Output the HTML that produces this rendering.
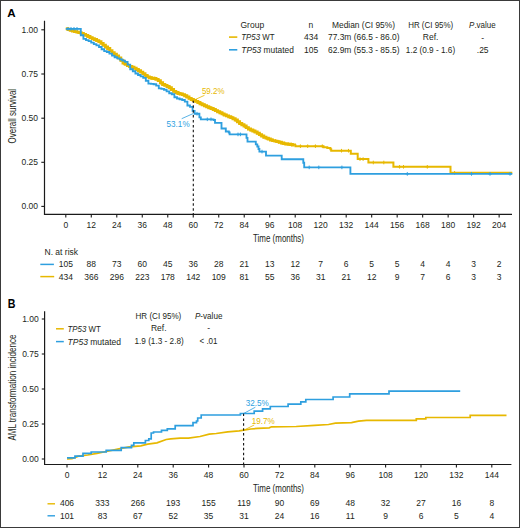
<!DOCTYPE html><html><head><meta charset="utf-8"><style>html,body{margin:0;padding:0;background:#fff;}svg{display:block;}text{font-family:"Liberation Sans", sans-serif;}</style></head><body>
<svg width="520" height="528" viewBox="0 0 520 528">
<rect x="0" y="0" width="520" height="528" fill="#fff"/>
<text x="7.3" y="17.1" font-size="11.6" text-anchor="start" fill="#000" font-weight="bold" font-style="normal">A</text>
<path d="M44.5,20.8V214.4H512" stroke="#1a1a1a" stroke-width="1.2" fill="none"/>
<path d="M41.3,29.8H44.5" stroke="#1a1a1a" stroke-width="1.1"/>
<text x="38.0" y="32.8" font-size="8.5" text-anchor="end" fill="#231f20" font-weight="normal" font-style="normal">1.00</text>
<path d="M41.3,74.0H44.5" stroke="#1a1a1a" stroke-width="1.1"/>
<text x="38.0" y="77.0" font-size="8.5" text-anchor="end" fill="#231f20" font-weight="normal" font-style="normal">0.75</text>
<path d="M41.3,118.2H44.5" stroke="#1a1a1a" stroke-width="1.1"/>
<text x="38.0" y="121.2" font-size="8.5" text-anchor="end" fill="#231f20" font-weight="normal" font-style="normal">0.50</text>
<path d="M41.3,162.3H44.5" stroke="#1a1a1a" stroke-width="1.1"/>
<text x="38.0" y="165.3" font-size="8.5" text-anchor="end" fill="#231f20" font-weight="normal" font-style="normal">0.25</text>
<path d="M41.3,206.4H44.5" stroke="#1a1a1a" stroke-width="1.1"/>
<text x="38.0" y="209.4" font-size="8.5" text-anchor="end" fill="#231f20" font-weight="normal" font-style="normal">0.00</text>
<path d="M65.80,214.4V217.6" stroke="#1a1a1a" stroke-width="1.1"/>
<text x="65.8" y="228.1" font-size="8.5" text-anchor="middle" fill="#231f20" font-weight="normal" font-style="normal">0</text>
<path d="M91.29,214.4V217.6" stroke="#1a1a1a" stroke-width="1.1"/>
<text x="91.29" y="228.1" font-size="8.5" text-anchor="middle" fill="#231f20" font-weight="normal" font-style="normal">12</text>
<path d="M116.78,214.4V217.6" stroke="#1a1a1a" stroke-width="1.1"/>
<text x="116.78" y="228.1" font-size="8.5" text-anchor="middle" fill="#231f20" font-weight="normal" font-style="normal">24</text>
<path d="M142.27,214.4V217.6" stroke="#1a1a1a" stroke-width="1.1"/>
<text x="142.27" y="228.1" font-size="8.5" text-anchor="middle" fill="#231f20" font-weight="normal" font-style="normal">36</text>
<path d="M167.76,214.4V217.6" stroke="#1a1a1a" stroke-width="1.1"/>
<text x="167.76" y="228.1" font-size="8.5" text-anchor="middle" fill="#231f20" font-weight="normal" font-style="normal">48</text>
<path d="M193.25,214.4V217.6" stroke="#1a1a1a" stroke-width="1.1"/>
<text x="193.25" y="228.1" font-size="8.5" text-anchor="middle" fill="#231f20" font-weight="normal" font-style="normal">60</text>
<path d="M218.74,214.4V217.6" stroke="#1a1a1a" stroke-width="1.1"/>
<text x="218.74" y="228.1" font-size="8.5" text-anchor="middle" fill="#231f20" font-weight="normal" font-style="normal">72</text>
<path d="M244.23,214.4V217.6" stroke="#1a1a1a" stroke-width="1.1"/>
<text x="244.23" y="228.1" font-size="8.5" text-anchor="middle" fill="#231f20" font-weight="normal" font-style="normal">84</text>
<path d="M269.72,214.4V217.6" stroke="#1a1a1a" stroke-width="1.1"/>
<text x="269.72" y="228.1" font-size="8.5" text-anchor="middle" fill="#231f20" font-weight="normal" font-style="normal">96</text>
<path d="M295.21,214.4V217.6" stroke="#1a1a1a" stroke-width="1.1"/>
<text x="295.21" y="228.1" font-size="8.5" text-anchor="middle" fill="#231f20" font-weight="normal" font-style="normal">108</text>
<path d="M320.70,214.4V217.6" stroke="#1a1a1a" stroke-width="1.1"/>
<text x="320.7" y="228.1" font-size="8.5" text-anchor="middle" fill="#231f20" font-weight="normal" font-style="normal">120</text>
<path d="M346.19,214.4V217.6" stroke="#1a1a1a" stroke-width="1.1"/>
<text x="346.19" y="228.1" font-size="8.5" text-anchor="middle" fill="#231f20" font-weight="normal" font-style="normal">132</text>
<path d="M371.68,214.4V217.6" stroke="#1a1a1a" stroke-width="1.1"/>
<text x="371.68" y="228.1" font-size="8.5" text-anchor="middle" fill="#231f20" font-weight="normal" font-style="normal">144</text>
<path d="M397.17,214.4V217.6" stroke="#1a1a1a" stroke-width="1.1"/>
<text x="397.17" y="228.1" font-size="8.5" text-anchor="middle" fill="#231f20" font-weight="normal" font-style="normal">156</text>
<path d="M422.66,214.4V217.6" stroke="#1a1a1a" stroke-width="1.1"/>
<text x="422.66" y="228.1" font-size="8.5" text-anchor="middle" fill="#231f20" font-weight="normal" font-style="normal">168</text>
<path d="M448.15,214.4V217.6" stroke="#1a1a1a" stroke-width="1.1"/>
<text x="448.15" y="228.1" font-size="8.5" text-anchor="middle" fill="#231f20" font-weight="normal" font-style="normal">180</text>
<path d="M473.64,214.4V217.6" stroke="#1a1a1a" stroke-width="1.1"/>
<text x="473.64" y="228.1" font-size="8.5" text-anchor="middle" fill="#231f20" font-weight="normal" font-style="normal">192</text>
<path d="M499.13,214.4V217.6" stroke="#1a1a1a" stroke-width="1.1"/>
<text x="499.13" y="228.1" font-size="8.5" text-anchor="middle" fill="#231f20" font-weight="normal" font-style="normal">204</text>
<text x="278.5" y="241.6" font-size="10" text-anchor="middle" fill="#231f20" font-weight="normal" font-style="normal" textLength="51" lengthAdjust="spacingAndGlyphs">Time (months)</text>
<g transform="translate(15.5,116.2) rotate(-90)">
<text x="0" y="0" font-size="10" text-anchor="middle" fill="#231f20" font-weight="normal" font-style="normal" textLength="54.6" lengthAdjust="spacingAndGlyphs">Overall survival</text>
</g>
<text x="240.5" y="27.6" font-size="8.5" text-anchor="start" fill="#231f20" font-weight="normal" font-style="normal">Group</text>
<text x="310.9" y="27.6" font-size="8.5" text-anchor="middle" fill="#231f20" font-weight="normal" font-style="normal">n</text>
<text x="363.5" y="27.6" font-size="8.5" text-anchor="middle" fill="#231f20" font-weight="normal" font-style="normal" textLength="63" lengthAdjust="spacingAndGlyphs">Median (CI 95%)</text>
<text x="430.7" y="27.6" font-size="8.5" text-anchor="middle" fill="#231f20" font-weight="normal" font-style="normal" textLength="45" lengthAdjust="spacingAndGlyphs">HR (CI 95%)</text>
<text x="482.4" y="27.6" font-size="8.5" text-anchor="middle" fill="#231f20" textLength="26.6" lengthAdjust="spacingAndGlyphs"><tspan font-style="italic">P</tspan>.value</text>
<path d="M229,37.1H237.3" stroke="#E7B800" stroke-width="1.6"/>
<path d="M229,49.8H237.3" stroke="#2E9FDF" stroke-width="1.6"/>
<text x="241.3" y="40.1" font-size="8.5" fill="#231f20" textLength="33.2" lengthAdjust="spacingAndGlyphs"><tspan font-style="italic">TP53</tspan> WT</text>
<text x="241.3" y="52.6" font-size="8.5" fill="#231f20" textLength="52.5" lengthAdjust="spacingAndGlyphs"><tspan font-style="italic">TP53</tspan> mutated</text>
<text x="311.2" y="40.1" font-size="8.5" text-anchor="middle" fill="#231f20" font-weight="normal" font-style="normal">434</text>
<text x="311.2" y="52.6" font-size="8.5" text-anchor="middle" fill="#231f20" font-weight="normal" font-style="normal">105</text>
<text x="363.75" y="40.1" font-size="8.5" text-anchor="middle" fill="#231f20" font-weight="normal" font-style="normal" textLength="71.5" lengthAdjust="spacingAndGlyphs">77.3m (66.5 - 86.0)</text>
<text x="363.75" y="52.6" font-size="8.5" text-anchor="middle" fill="#231f20" font-weight="normal" font-style="normal" textLength="71.5" lengthAdjust="spacingAndGlyphs">62.9m (55.3 - 85.5)</text>
<text x="430.6" y="40.1" font-size="8.5" text-anchor="middle" fill="#231f20" font-weight="normal" font-style="normal">Ref.</text>
<text x="430.5" y="52.6" font-size="8.5" text-anchor="middle" fill="#231f20" font-weight="normal" font-style="normal" textLength="49.3" lengthAdjust="spacingAndGlyphs">1.2 (0.9 - 1.6)</text>
<text x="482.7" y="40.8" font-size="8.5" text-anchor="middle" fill="#231f20" font-weight="normal" font-style="normal">-</text>
<text x="482.7" y="52.6" font-size="8.5" text-anchor="middle" fill="#231f20" font-weight="normal" font-style="normal">.25</text>
<text x="44.5" y="254.6" font-size="8.5" text-anchor="start" fill="#231f20" font-weight="normal" font-style="normal">N. at risk</text>
<path d="M40.3,264.4H53.9" stroke="#2E9FDF" stroke-width="1.5"/>
<path d="M40.3,276.6H54.2" stroke="#E7B800" stroke-width="1.5"/>
<text x="65.8" y="267.3" font-size="8.5" text-anchor="middle" fill="#231f20" font-weight="normal" font-style="normal">105</text>
<text x="65.8" y="279.8" font-size="8.5" text-anchor="middle" fill="#231f20" font-weight="normal" font-style="normal">434</text>
<text x="91.29" y="267.3" font-size="8.5" text-anchor="middle" fill="#231f20" font-weight="normal" font-style="normal">88</text>
<text x="91.29" y="279.8" font-size="8.5" text-anchor="middle" fill="#231f20" font-weight="normal" font-style="normal">366</text>
<text x="116.78" y="267.3" font-size="8.5" text-anchor="middle" fill="#231f20" font-weight="normal" font-style="normal">73</text>
<text x="116.78" y="279.8" font-size="8.5" text-anchor="middle" fill="#231f20" font-weight="normal" font-style="normal">296</text>
<text x="142.27" y="267.3" font-size="8.5" text-anchor="middle" fill="#231f20" font-weight="normal" font-style="normal">60</text>
<text x="142.27" y="279.8" font-size="8.5" text-anchor="middle" fill="#231f20" font-weight="normal" font-style="normal">223</text>
<text x="167.76" y="267.3" font-size="8.5" text-anchor="middle" fill="#231f20" font-weight="normal" font-style="normal">45</text>
<text x="167.76" y="279.8" font-size="8.5" text-anchor="middle" fill="#231f20" font-weight="normal" font-style="normal">178</text>
<text x="193.25" y="267.3" font-size="8.5" text-anchor="middle" fill="#231f20" font-weight="normal" font-style="normal">36</text>
<text x="193.25" y="279.8" font-size="8.5" text-anchor="middle" fill="#231f20" font-weight="normal" font-style="normal">142</text>
<text x="218.74" y="267.3" font-size="8.5" text-anchor="middle" fill="#231f20" font-weight="normal" font-style="normal">28</text>
<text x="218.74" y="279.8" font-size="8.5" text-anchor="middle" fill="#231f20" font-weight="normal" font-style="normal">109</text>
<text x="244.23" y="267.3" font-size="8.5" text-anchor="middle" fill="#231f20" font-weight="normal" font-style="normal">21</text>
<text x="244.23" y="279.8" font-size="8.5" text-anchor="middle" fill="#231f20" font-weight="normal" font-style="normal">81</text>
<text x="269.72" y="267.3" font-size="8.5" text-anchor="middle" fill="#231f20" font-weight="normal" font-style="normal">13</text>
<text x="269.72" y="279.8" font-size="8.5" text-anchor="middle" fill="#231f20" font-weight="normal" font-style="normal">55</text>
<text x="295.21" y="267.3" font-size="8.5" text-anchor="middle" fill="#231f20" font-weight="normal" font-style="normal">12</text>
<text x="295.21" y="279.8" font-size="8.5" text-anchor="middle" fill="#231f20" font-weight="normal" font-style="normal">36</text>
<text x="320.7" y="267.3" font-size="8.5" text-anchor="middle" fill="#231f20" font-weight="normal" font-style="normal">7</text>
<text x="320.7" y="279.8" font-size="8.5" text-anchor="middle" fill="#231f20" font-weight="normal" font-style="normal">31</text>
<text x="346.19" y="267.3" font-size="8.5" text-anchor="middle" fill="#231f20" font-weight="normal" font-style="normal">6</text>
<text x="346.19" y="279.8" font-size="8.5" text-anchor="middle" fill="#231f20" font-weight="normal" font-style="normal">21</text>
<text x="371.68" y="267.3" font-size="8.5" text-anchor="middle" fill="#231f20" font-weight="normal" font-style="normal">5</text>
<text x="371.68" y="279.8" font-size="8.5" text-anchor="middle" fill="#231f20" font-weight="normal" font-style="normal">12</text>
<text x="397.17" y="267.3" font-size="8.5" text-anchor="middle" fill="#231f20" font-weight="normal" font-style="normal">5</text>
<text x="397.17" y="279.8" font-size="8.5" text-anchor="middle" fill="#231f20" font-weight="normal" font-style="normal">9</text>
<text x="422.66" y="267.3" font-size="8.5" text-anchor="middle" fill="#231f20" font-weight="normal" font-style="normal">4</text>
<text x="422.66" y="279.8" font-size="8.5" text-anchor="middle" fill="#231f20" font-weight="normal" font-style="normal">7</text>
<text x="448.15" y="267.3" font-size="8.5" text-anchor="middle" fill="#231f20" font-weight="normal" font-style="normal">4</text>
<text x="448.15" y="279.8" font-size="8.5" text-anchor="middle" fill="#231f20" font-weight="normal" font-style="normal">6</text>
<text x="473.64" y="267.3" font-size="8.5" text-anchor="middle" fill="#231f20" font-weight="normal" font-style="normal">3</text>
<text x="473.64" y="279.8" font-size="8.5" text-anchor="middle" fill="#231f20" font-weight="normal" font-style="normal">3</text>
<text x="499.13" y="267.3" font-size="8.5" text-anchor="middle" fill="#231f20" font-weight="normal" font-style="normal">2</text>
<text x="499.13" y="279.8" font-size="8.5" text-anchor="middle" fill="#231f20" font-weight="normal" font-style="normal">3</text>
<polyline points="294.60,145.60 295.50,145.60 295.50,146.20 322.00,146.20 322.00,146.20 323.50,146.20 323.50,147.30 327.30,147.30 327.30,148.10 330.40,148.10 330.40,149.20 331.20,149.20 331.20,150.70 350.80,150.70 350.80,153.80 357.70,153.80 357.70,159.10 368.40,159.10 368.40,162.50 393.40,162.50 393.40,166.80 450.50,166.80 450.50,172.80 512.30,172.80 512.30,172.80" fill="none" stroke="#E7B800" stroke-width="2.0" stroke-linejoin="miter"/>
<polyline points="65.80,28.80 68.00,28.80 68.00,29.59 70.20,29.59 70.20,30.34 72.40,30.34 72.40,30.96 74.60,30.96 74.60,31.59 76.80,31.59 76.80,32.12 79.00,32.12 79.00,32.64 81.20,32.64 81.20,33.43 83.40,33.43 83.40,34.36 85.60,34.36 85.60,35.42 87.80,35.42 87.80,36.50 90.00,36.50 90.00,37.60 92.20,37.60 92.20,38.62 94.40,38.62 94.40,39.55 96.60,39.55 96.60,40.58 98.80,40.58 98.80,41.65 101.00,41.65 101.00,43.42 103.20,43.42 103.20,45.29 105.40,45.29 105.40,46.95 107.60,46.95 107.60,48.53 109.80,48.53 109.80,50.59 112.00,50.59 112.00,52.58 114.20,52.58 114.20,54.28 116.40,54.28 116.40,56.07 118.60,56.07 118.60,57.98 120.80,57.98 120.80,60.39 123.00,60.39 123.00,63.00 125.20,63.00 125.20,64.35 127.40,64.35 127.40,65.59 129.60,65.59 129.60,66.44 131.80,66.44 131.80,67.32 134.00,67.32 134.00,68.25 136.20,68.25 136.20,69.45 138.40,69.45 138.40,70.76 140.60,70.76 140.60,72.15 142.80,72.15 142.80,73.58 145.00,73.58 145.00,75.38 147.20,75.38 147.20,76.89 149.40,76.89 149.40,77.79 151.60,77.79 151.60,78.29 153.80,78.29 153.80,78.47 156.00,78.47 156.00,79.42 158.20,79.42 158.20,80.60 160.40,80.60 160.40,82.80 162.60,82.80 162.60,84.57 164.80,84.57 164.80,85.42 167.00,85.42 167.00,86.49 169.20,86.49 169.20,87.77 171.40,87.77 171.40,89.50 173.60,89.50 173.60,91.33 175.80,91.33 175.80,92.53 178.00,92.53 178.00,93.56 180.20,93.56 180.20,93.96 182.40,93.96 182.40,94.66 184.60,94.66 184.60,95.79 186.80,95.79 186.80,97.05 189.00,97.05 189.00,98.38 191.20,98.38 191.20,99.47 193.40,99.47 193.40,100.52 195.60,100.52 195.60,101.39 197.80,101.39 197.80,102.43 200.00,102.43 200.00,103.73 202.20,103.73 202.20,104.79 204.40,104.79 204.40,105.72 206.60,105.72 206.60,106.70 208.80,106.70 208.80,107.70 211.00,107.70 211.00,108.55 213.20,108.55 213.20,109.46 215.40,109.46 215.40,110.62 217.60,110.62 217.60,111.74 219.80,111.74 219.80,112.81 222.00,112.81 222.00,113.90 224.20,113.90 224.20,115.00 226.40,115.00 226.40,115.85 228.60,115.85 228.60,116.71 230.80,116.71 230.80,117.64 233.00,117.64 233.00,118.75 235.20,118.75 235.20,120.05 237.40,120.05 237.40,121.71 239.60,121.71 239.60,123.50 241.80,123.50 241.80,124.74 244.00,124.74 244.00,126.06 246.20,126.06 246.20,127.62 248.40,127.62 248.40,129.07 250.60,129.07 250.60,130.03 252.80,130.03 252.80,130.99 255.00,130.99 255.00,131.95 257.20,131.95 257.20,133.20 259.40,133.20 259.40,134.61 261.60,134.61 261.60,135.97 263.80,135.97 263.80,137.30 266.00,137.30 266.00,138.15 268.20,138.15 268.20,139.01 270.40,139.01 270.40,139.94 272.60,139.94 272.60,140.63 274.80,140.63 274.80,141.08 277.00,141.08 277.00,141.66 279.20,141.66 279.20,142.30 281.40,142.30 281.40,142.98 283.60,142.98 283.60,143.59 285.80,143.59 285.80,144.00 288.00,144.00 288.00,144.31 290.20,144.31 290.20,144.54 292.40,144.54 292.40,145.02 294.60,145.02 294.60,145.60 294.60,145.60 294.60,145.60" fill="none" stroke="#E7B800" stroke-width="2.9" stroke-linejoin="miter"/>
<path d="M68.00,27.49V30.99" stroke="#E7B800" stroke-width="1.0"/>
<path d="M71.10,28.50V32.00" stroke="#E7B800" stroke-width="1.0"/>
<path d="M74.20,29.37V32.87" stroke="#E7B800" stroke-width="1.0"/>
<path d="M77.30,30.14V33.64" stroke="#E7B800" stroke-width="1.0"/>
<path d="M80.40,30.99V34.49" stroke="#E7B800" stroke-width="1.0"/>
<path d="M83.50,32.30V35.80" stroke="#E7B800" stroke-width="1.0"/>
<path d="M86.60,33.81V37.31" stroke="#E7B800" stroke-width="1.0"/>
<path d="M89.70,35.35V38.85" stroke="#E7B800" stroke-width="1.0"/>
<path d="M92.80,36.77V40.27" stroke="#E7B800" stroke-width="1.0"/>
<path d="M95.90,38.14V41.64" stroke="#E7B800" stroke-width="1.0"/>
<path d="M99.00,39.68V43.18" stroke="#E7B800" stroke-width="1.0"/>
<path d="M102.10,42.26V45.76" stroke="#E7B800" stroke-width="1.0"/>
<path d="M105.20,44.71V48.21" stroke="#E7B800" stroke-width="1.0"/>
<path d="M108.30,47.07V50.57" stroke="#E7B800" stroke-width="1.0"/>
<path d="M111.40,50.01V53.51" stroke="#E7B800" stroke-width="1.0"/>
<path d="M114.50,52.41V55.91" stroke="#E7B800" stroke-width="1.0"/>
<path d="M117.60,55.01V58.51" stroke="#E7B800" stroke-width="1.0"/>
<path d="M120.70,58.18V61.68" stroke="#E7B800" stroke-width="1.0"/>
<path d="M123.80,61.39V64.89" stroke="#E7B800" stroke-width="1.0"/>
<path d="M126.90,63.30V66.80" stroke="#E7B800" stroke-width="1.0"/>
<path d="M130.00,64.49V67.99" stroke="#E7B800" stroke-width="1.0"/>
<path d="M133.10,65.77V69.27" stroke="#E7B800" stroke-width="1.0"/>
<path d="M136.20,67.35V70.85" stroke="#E7B800" stroke-width="1.0"/>
<path d="M139.30,69.22V72.72" stroke="#E7B800" stroke-width="1.0"/>
<path d="M142.40,71.21V74.71" stroke="#E7B800" stroke-width="1.0"/>
<path d="M145.50,73.68V77.18" stroke="#E7B800" stroke-width="1.0"/>
<path d="M148.60,75.36V78.86" stroke="#E7B800" stroke-width="1.0"/>
<path d="M151.70,76.20V79.70" stroke="#E7B800" stroke-width="1.0"/>
<path d="M154.80,76.71V80.21" stroke="#E7B800" stroke-width="1.0"/>
<path d="M157.90,78.30V81.80" stroke="#E7B800" stroke-width="1.0"/>
<path d="M161.00,81.30V84.80" stroke="#E7B800" stroke-width="1.0"/>
<path d="M164.10,83.05V86.55" stroke="#E7B800" stroke-width="1.0"/>
<path d="M167.20,84.51V88.01" stroke="#E7B800" stroke-width="1.0"/>
<path d="M170.30,86.48V89.98" stroke="#E7B800" stroke-width="1.0"/>
<path d="M173.40,89.07V92.57" stroke="#E7B800" stroke-width="1.0"/>
<path d="M176.50,90.78V94.28" stroke="#E7B800" stroke-width="1.0"/>
<path d="M179.60,91.75V95.25" stroke="#E7B800" stroke-width="1.0"/>
<path d="M182.70,92.72V96.22" stroke="#E7B800" stroke-width="1.0"/>
<path d="M185.80,94.34V97.84" stroke="#E7B800" stroke-width="1.0"/>
<path d="M188.90,96.22V99.72" stroke="#E7B800" stroke-width="1.0"/>
<path d="M192.00,97.76V101.26" stroke="#E7B800" stroke-width="1.0"/>
<path d="M195.10,99.09V102.59" stroke="#E7B800" stroke-width="1.0"/>
<path d="M198.20,100.57V104.07" stroke="#E7B800" stroke-width="1.0"/>
<path d="M201.30,102.31V105.81" stroke="#E7B800" stroke-width="1.0"/>
<path d="M204.40,103.62V107.12" stroke="#E7B800" stroke-width="1.0"/>
<path d="M207.50,105.01V108.51" stroke="#E7B800" stroke-width="1.0"/>
<path d="M210.60,106.29V109.79" stroke="#E7B800" stroke-width="1.0"/>
<path d="M213.70,107.63V111.13" stroke="#E7B800" stroke-width="1.0"/>
<path d="M216.80,109.25V112.75" stroke="#E7B800" stroke-width="1.0"/>
<path d="M219.90,110.76V114.26" stroke="#E7B800" stroke-width="1.0"/>
<path d="M223.00,112.30V115.80" stroke="#E7B800" stroke-width="1.0"/>
<path d="M226.10,113.63V117.13" stroke="#E7B800" stroke-width="1.0"/>
<path d="M229.20,114.86V118.36" stroke="#E7B800" stroke-width="1.0"/>
<path d="M232.30,116.24V119.74" stroke="#E7B800" stroke-width="1.0"/>
<path d="M235.40,118.06V121.56" stroke="#E7B800" stroke-width="1.0"/>
<path d="M238.50,120.50V124.00" stroke="#E7B800" stroke-width="1.0"/>
<path d="M241.60,122.53V126.03" stroke="#E7B800" stroke-width="1.0"/>
<path d="M244.70,124.45V127.95" stroke="#E7B800" stroke-width="1.0"/>
<path d="M247.80,126.66V130.16" stroke="#E7B800" stroke-width="1.0"/>
<path d="M250.90,128.06V131.56" stroke="#E7B800" stroke-width="1.0"/>
<path d="M254.00,129.42V132.92" stroke="#E7B800" stroke-width="1.0"/>
<path d="M257.10,131.04V134.54" stroke="#E7B800" stroke-width="1.0"/>
<path d="M260.20,133.02V136.52" stroke="#E7B800" stroke-width="1.0"/>
<path d="M263.30,134.90V138.40" stroke="#E7B800" stroke-width="1.0"/>
<path d="M266.40,136.20V139.70" stroke="#E7B800" stroke-width="1.0"/>
<path d="M269.50,137.46V140.96" stroke="#E7B800" stroke-width="1.0"/>
<path d="M272.60,138.53V142.03" stroke="#E7B800" stroke-width="1.0"/>
<path d="M275.70,139.19V142.69" stroke="#E7B800" stroke-width="1.0"/>
<path d="M278.80,140.08V143.58" stroke="#E7B800" stroke-width="1.0"/>
<path d="M281.90,141.03V144.53" stroke="#E7B800" stroke-width="1.0"/>
<path d="M285.00,141.75V145.25" stroke="#E7B800" stroke-width="1.0"/>
<path d="M288.10,142.22V145.72" stroke="#E7B800" stroke-width="1.0"/>
<path d="M291.20,142.61V146.11" stroke="#E7B800" stroke-width="1.0"/>
<path d="M298.60,146.20H302.20M300.40,144.40V148.00" stroke="#E7B800" stroke-width="1.0" fill="none"/>
<path d="M305.90,146.20H309.50M307.70,144.40V148.00" stroke="#E7B800" stroke-width="1.0" fill="none"/>
<path d="M313.60,146.20H317.20M315.40,144.40V148.00" stroke="#E7B800" stroke-width="1.0" fill="none"/>
<path d="M320.50,146.20H324.10M322.30,144.40V148.00" stroke="#E7B800" stroke-width="1.0" fill="none"/>
<path d="M339.70,150.70H343.30M341.50,148.90V152.50" stroke="#E7B800" stroke-width="1.0" fill="none"/>
<path d="M346.70,150.70H350.30M348.50,148.90V152.50" stroke="#E7B800" stroke-width="1.0" fill="none"/>
<path d="M358.20,159.10H361.80M360.00,157.30V160.90" stroke="#E7B800" stroke-width="1.0" fill="none"/>
<path d="M361.30,159.10H364.90M363.10,157.30V160.90" stroke="#E7B800" stroke-width="1.0" fill="none"/>
<path d="M371.50,162.50H375.10M373.30,160.70V164.30" stroke="#E7B800" stroke-width="1.0" fill="none"/>
<path d="M382.00,162.50H385.60M383.80,160.70V164.30" stroke="#E7B800" stroke-width="1.0" fill="none"/>
<path d="M397.80,166.80H401.40M399.60,165.00V168.60" stroke="#E7B800" stroke-width="1.0" fill="none"/>
<path d="M401.70,166.80H405.30M403.50,165.00V168.60" stroke="#E7B800" stroke-width="1.0" fill="none"/>
<path d="M425.50,166.80H429.10M427.30,165.00V168.60" stroke="#E7B800" stroke-width="1.0" fill="none"/>
<path d="M452.80,172.80H456.40M454.60,171.00V174.60" stroke="#E7B800" stroke-width="1.0" fill="none"/>
<polyline points="65.80,28.80 80.80,28.80 80.80,35.20 83.40,35.20 83.40,38.93 86.00,38.93 86.00,40.18 88.60,40.18 88.60,41.18 91.20,41.18 91.20,42.66 93.80,42.66 93.80,44.10 96.40,44.10 96.40,45.40 99.00,45.40 99.00,47.04 101.60,47.04 101.60,49.23 104.20,49.23 104.20,51.18 106.80,51.18 106.80,52.01 109.40,52.01 109.40,53.69 112.00,53.69 112.00,55.69 114.60,55.69 114.60,57.23 117.20,57.23 117.20,58.41 119.80,58.41 119.80,59.45 122.40,59.45 122.40,60.55 125.00,60.55 125.00,61.93 127.60,61.93 127.60,64.67 130.20,64.67 130.20,69.24 132.80,69.24 132.80,71.24 135.40,71.24 135.40,73.50 138.00,73.50 138.00,75.03 140.60,75.03 140.60,76.38 143.20,76.38 143.20,77.81 145.80,77.81 145.80,80.76 148.40,80.76 148.40,83.63 151.00,83.63 151.00,83.93 153.60,83.93 153.60,84.23 156.20,84.23 156.20,85.60 158.80,85.60 158.80,88.33 161.40,88.33 161.40,88.81 164.00,88.81 164.00,89.76 166.60,89.76 166.60,91.30 169.20,91.30 169.20,93.23 171.80,93.23 171.80,94.26 174.40,94.26 174.40,97.26 177.00,97.26 177.00,98.51 179.60,98.51 179.60,99.20 182.20,99.20 182.20,99.96 184.80,99.96 184.80,101.57 187.40,101.57 187.40,105.48 190.00,105.48 190.00,106.90 192.60,106.90 192.60,110.93 194.60,110.93 194.60,113.70 199.40,113.70 199.40,117.30 200.80,117.30 200.80,119.30 213.50,119.30 213.50,120.00 215.00,120.00 215.00,122.90 221.50,122.90 221.50,128.50 225.80,128.50 225.80,131.50 228.80,131.50 228.80,132.50 229.60,132.50 229.60,134.40 246.50,134.40 246.50,137.80 247.50,137.80 247.50,141.60 255.80,141.60 255.80,144.30 257.30,144.30 257.30,146.50 258.50,146.50 258.50,149.00 259.40,149.00 259.40,151.60 266.00,151.60 266.00,155.60 281.70,155.60 281.70,159.20 303.30,159.20 303.30,162.70 304.20,162.70 304.20,167.40 350.40,167.40 350.40,173.90 512.30,173.90 512.30,173.90" fill="none" stroke="#2E9FDF" stroke-width="1.85" stroke-linejoin="miter"/>
<path d="M66.20,28.80H69.80M68.00,27.00V30.60" stroke="#2E9FDF" stroke-width="1.0" fill="none"/>
<path d="M69.20,28.80H72.80M71.00,27.00V30.60" stroke="#2E9FDF" stroke-width="1.0" fill="none"/>
<path d="M72.20,28.80H75.80M74.00,27.00V30.60" stroke="#2E9FDF" stroke-width="1.0" fill="none"/>
<path d="M75.20,28.80H78.80M77.00,27.00V30.60" stroke="#2E9FDF" stroke-width="1.0" fill="none"/>
<path d="M195.20,113.70H198.80M197.00,111.90V115.50" stroke="#2E9FDF" stroke-width="1.0" fill="none"/>
<path d="M205.50,119.30H209.10M207.30,117.50V121.10" stroke="#2E9FDF" stroke-width="1.0" fill="none"/>
<path d="M209.20,119.30H212.80M211.00,117.50V121.10" stroke="#2E9FDF" stroke-width="1.0" fill="none"/>
<path d="M236.20,134.40H239.80M238.00,132.60V136.20" stroke="#2E9FDF" stroke-width="1.0" fill="none"/>
<path d="M238.60,134.40H242.20M240.40,132.60V136.20" stroke="#2E9FDF" stroke-width="1.0" fill="none"/>
<path d="M260.20,151.60H263.80M262.00,149.80V153.40" stroke="#2E9FDF" stroke-width="1.0" fill="none"/>
<path d="M307.40,167.40H311.00M309.20,165.60V169.20" stroke="#2E9FDF" stroke-width="1.0" fill="none"/>
<path d="M317.00,167.40H320.60M318.80,165.60V169.20" stroke="#2E9FDF" stroke-width="1.0" fill="none"/>
<path d="M340.10,167.40H343.70M341.90,165.60V169.20" stroke="#2E9FDF" stroke-width="1.0" fill="none"/>
<path d="M405.50,173.90H409.10M407.30,172.10V175.70" stroke="#2E9FDF" stroke-width="1.0" fill="none"/>
<path d="M469.70,173.90H473.30M471.50,172.10V175.70" stroke="#2E9FDF" stroke-width="1.0" fill="none"/>
<path d="M488.20,173.90H491.80M490.00,172.10V175.70" stroke="#2E9FDF" stroke-width="1.0" fill="none"/>
<path d="M508.20,173.90H511.80M510.00,172.10V175.70" stroke="#2E9FDF" stroke-width="1.0" fill="none"/>
<path d="M193.3,100.4V214.4" stroke="#111" stroke-width="1.1" stroke-dasharray="2.5,2.4"/>
<path d="M193.3,100.4L204.5,95.3" stroke="#E7B800" stroke-width="0.8"/>
<path d="M193.3,113.5L181.7,118.7" stroke="#2E9FDF" stroke-width="0.8"/>
<text x="213.2" y="93.5" font-size="8.5" text-anchor="middle" fill="#E7B800" font-weight="normal" font-style="normal" textLength="22.6" lengthAdjust="spacingAndGlyphs">59.2%</text>
<text x="178.1" y="127.1" font-size="8.5" text-anchor="middle" fill="#2E9FDF" font-weight="normal" font-style="normal" textLength="23" lengthAdjust="spacingAndGlyphs">53.1%</text>
<text x="7.7" y="307.9" font-size="12.4" text-anchor="start" fill="#000" font-weight="bold" font-style="normal" textLength="7.7" lengthAdjust="spacingAndGlyphs">B</text>
<path d="M44.6,311.3V464.5H511.4" stroke="#1a1a1a" stroke-width="1.2" fill="none"/>
<path d="M41.8,319.0H44.6" stroke="#1a1a1a" stroke-width="1.1"/>
<text x="38.7" y="322.0" font-size="8.5" text-anchor="end" fill="#231f20" font-weight="normal" font-style="normal">1.00</text>
<path d="M41.8,354.0H44.6" stroke="#1a1a1a" stroke-width="1.1"/>
<text x="38.7" y="357.0" font-size="8.5" text-anchor="end" fill="#231f20" font-weight="normal" font-style="normal">0.75</text>
<path d="M41.8,389.0H44.6" stroke="#1a1a1a" stroke-width="1.1"/>
<text x="38.7" y="392.0" font-size="8.5" text-anchor="end" fill="#231f20" font-weight="normal" font-style="normal">0.50</text>
<path d="M41.8,424.0H44.6" stroke="#1a1a1a" stroke-width="1.1"/>
<text x="38.7" y="427.0" font-size="8.5" text-anchor="end" fill="#231f20" font-weight="normal" font-style="normal">0.25</text>
<path d="M41.8,459.0H44.6" stroke="#1a1a1a" stroke-width="1.1"/>
<text x="38.7" y="462.0" font-size="8.5" text-anchor="end" fill="#231f20" font-weight="normal" font-style="normal">0.00</text>
<path d="M67.00,464.5V467.6" stroke="#1a1a1a" stroke-width="1.1"/>
<text x="67.0" y="478.1" font-size="8.5" text-anchor="middle" fill="#231f20" font-weight="normal" font-style="normal">0</text>
<path d="M102.40,464.5V467.6" stroke="#1a1a1a" stroke-width="1.1"/>
<text x="102.4" y="478.1" font-size="8.5" text-anchor="middle" fill="#231f20" font-weight="normal" font-style="normal">12</text>
<path d="M137.80,464.5V467.6" stroke="#1a1a1a" stroke-width="1.1"/>
<text x="137.8" y="478.1" font-size="8.5" text-anchor="middle" fill="#231f20" font-weight="normal" font-style="normal">24</text>
<path d="M173.20,464.5V467.6" stroke="#1a1a1a" stroke-width="1.1"/>
<text x="173.2" y="478.1" font-size="8.5" text-anchor="middle" fill="#231f20" font-weight="normal" font-style="normal">36</text>
<path d="M208.60,464.5V467.6" stroke="#1a1a1a" stroke-width="1.1"/>
<text x="208.6" y="478.1" font-size="8.5" text-anchor="middle" fill="#231f20" font-weight="normal" font-style="normal">48</text>
<path d="M244.00,464.5V467.6" stroke="#1a1a1a" stroke-width="1.1"/>
<text x="244.0" y="478.1" font-size="8.5" text-anchor="middle" fill="#231f20" font-weight="normal" font-style="normal">60</text>
<path d="M279.40,464.5V467.6" stroke="#1a1a1a" stroke-width="1.1"/>
<text x="279.4" y="478.1" font-size="8.5" text-anchor="middle" fill="#231f20" font-weight="normal" font-style="normal">72</text>
<path d="M314.80,464.5V467.6" stroke="#1a1a1a" stroke-width="1.1"/>
<text x="314.8" y="478.1" font-size="8.5" text-anchor="middle" fill="#231f20" font-weight="normal" font-style="normal">84</text>
<path d="M350.20,464.5V467.6" stroke="#1a1a1a" stroke-width="1.1"/>
<text x="350.2" y="478.1" font-size="8.5" text-anchor="middle" fill="#231f20" font-weight="normal" font-style="normal">96</text>
<path d="M385.60,464.5V467.6" stroke="#1a1a1a" stroke-width="1.1"/>
<text x="385.6" y="478.1" font-size="8.5" text-anchor="middle" fill="#231f20" font-weight="normal" font-style="normal">108</text>
<path d="M421.00,464.5V467.6" stroke="#1a1a1a" stroke-width="1.1"/>
<text x="421.0" y="478.1" font-size="8.5" text-anchor="middle" fill="#231f20" font-weight="normal" font-style="normal">120</text>
<path d="M456.40,464.5V467.6" stroke="#1a1a1a" stroke-width="1.1"/>
<text x="456.4" y="478.1" font-size="8.5" text-anchor="middle" fill="#231f20" font-weight="normal" font-style="normal">132</text>
<path d="M491.80,464.5V467.6" stroke="#1a1a1a" stroke-width="1.1"/>
<text x="491.8" y="478.1" font-size="8.5" text-anchor="middle" fill="#231f20" font-weight="normal" font-style="normal">144</text>
<text x="278.5" y="491.8" font-size="10" text-anchor="middle" fill="#231f20" font-weight="normal" font-style="normal" textLength="51" lengthAdjust="spacingAndGlyphs">Time (months)</text>
<g transform="translate(15.6,387.6) rotate(-90)">
<text x="0" y="0" font-size="10" text-anchor="middle" fill="#231f20" font-weight="normal" font-style="normal" textLength="106" lengthAdjust="spacingAndGlyphs">AML transformation incidence</text>
</g>
<text x="158.4" y="318.6" font-size="8.5" text-anchor="middle" fill="#231f20" font-weight="normal" font-style="normal" textLength="45.7" lengthAdjust="spacingAndGlyphs">HR (CI 95%)</text>
<text x="208.7" y="318.6" font-size="8.5" text-anchor="middle" fill="#231f20" textLength="27.5" lengthAdjust="spacingAndGlyphs"><tspan font-style="italic">P</tspan>-value</text>
<path d="M56,328.8H63.8" stroke="#E7B800" stroke-width="1.5"/>
<path d="M56,341.6H63.8" stroke="#2E9FDF" stroke-width="1.5"/>
<text x="67.5" y="332.4" font-size="8.5" fill="#231f20" textLength="33.2" lengthAdjust="spacingAndGlyphs"><tspan font-style="italic">TP53</tspan> WT</text>
<text x="67.5" y="345.1" font-size="8.5" fill="#231f20" textLength="53.6" lengthAdjust="spacingAndGlyphs"><tspan font-style="italic">TP53</tspan> mutated</text>
<text x="158.75" y="331.4" font-size="8.5" text-anchor="middle" fill="#231f20" font-weight="normal" font-style="normal">Ref.</text>
<text x="208.75" y="331.4" font-size="8.5" text-anchor="middle" fill="#231f20" font-weight="normal" font-style="normal">-</text>
<text x="159.1" y="344.3" font-size="8.5" text-anchor="middle" fill="#231f20" font-weight="normal" font-style="normal" textLength="49.3" lengthAdjust="spacingAndGlyphs">1.9 (1.3 - 2.8)</text>
<text x="208.5" y="344.3" font-size="8.5" text-anchor="middle" fill="#231f20" font-weight="normal" font-style="normal" textLength="18" lengthAdjust="spacingAndGlyphs">&lt; .01</text>
<path d="M47.5,503.8H55" stroke="#E7B800" stroke-width="1.4"/>
<path d="M47.5,515.8H55" stroke="#2E9FDF" stroke-width="1.4"/>
<text x="67.0" y="506.1" font-size="8.5" text-anchor="middle" fill="#231f20" font-weight="normal" font-style="normal">406</text>
<text x="67.0" y="518.6" font-size="8.5" text-anchor="middle" fill="#231f20" font-weight="normal" font-style="normal">101</text>
<text x="102.4" y="506.1" font-size="8.5" text-anchor="middle" fill="#231f20" font-weight="normal" font-style="normal">333</text>
<text x="102.4" y="518.6" font-size="8.5" text-anchor="middle" fill="#231f20" font-weight="normal" font-style="normal">83</text>
<text x="137.8" y="506.1" font-size="8.5" text-anchor="middle" fill="#231f20" font-weight="normal" font-style="normal">266</text>
<text x="137.8" y="518.6" font-size="8.5" text-anchor="middle" fill="#231f20" font-weight="normal" font-style="normal">67</text>
<text x="173.2" y="506.1" font-size="8.5" text-anchor="middle" fill="#231f20" font-weight="normal" font-style="normal">193</text>
<text x="173.2" y="518.6" font-size="8.5" text-anchor="middle" fill="#231f20" font-weight="normal" font-style="normal">52</text>
<text x="208.6" y="506.1" font-size="8.5" text-anchor="middle" fill="#231f20" font-weight="normal" font-style="normal">155</text>
<text x="208.6" y="518.6" font-size="8.5" text-anchor="middle" fill="#231f20" font-weight="normal" font-style="normal">35</text>
<text x="244.0" y="506.1" font-size="8.5" text-anchor="middle" fill="#231f20" font-weight="normal" font-style="normal">119</text>
<text x="244.0" y="518.6" font-size="8.5" text-anchor="middle" fill="#231f20" font-weight="normal" font-style="normal">31</text>
<text x="279.4" y="506.1" font-size="8.5" text-anchor="middle" fill="#231f20" font-weight="normal" font-style="normal">90</text>
<text x="279.4" y="518.6" font-size="8.5" text-anchor="middle" fill="#231f20" font-weight="normal" font-style="normal">24</text>
<text x="314.8" y="506.1" font-size="8.5" text-anchor="middle" fill="#231f20" font-weight="normal" font-style="normal">69</text>
<text x="314.8" y="518.6" font-size="8.5" text-anchor="middle" fill="#231f20" font-weight="normal" font-style="normal">16</text>
<text x="350.2" y="506.1" font-size="8.5" text-anchor="middle" fill="#231f20" font-weight="normal" font-style="normal">48</text>
<text x="350.2" y="518.6" font-size="8.5" text-anchor="middle" fill="#231f20" font-weight="normal" font-style="normal">11</text>
<text x="385.6" y="506.1" font-size="8.5" text-anchor="middle" fill="#231f20" font-weight="normal" font-style="normal">32</text>
<text x="385.6" y="518.6" font-size="8.5" text-anchor="middle" fill="#231f20" font-weight="normal" font-style="normal">9</text>
<text x="421.0" y="506.1" font-size="8.5" text-anchor="middle" fill="#231f20" font-weight="normal" font-style="normal">27</text>
<text x="421.0" y="518.6" font-size="8.5" text-anchor="middle" fill="#231f20" font-weight="normal" font-style="normal">6</text>
<text x="456.4" y="506.1" font-size="8.5" text-anchor="middle" fill="#231f20" font-weight="normal" font-style="normal">16</text>
<text x="456.4" y="518.6" font-size="8.5" text-anchor="middle" fill="#231f20" font-weight="normal" font-style="normal">5</text>
<text x="491.8" y="506.1" font-size="8.5" text-anchor="middle" fill="#231f20" font-weight="normal" font-style="normal">8</text>
<text x="491.8" y="518.6" font-size="8.5" text-anchor="middle" fill="#231f20" font-weight="normal" font-style="normal">4</text>
<polyline points="67.00,459.00 72.00,458.60 78.50,456.20 87.70,455.00 96.90,453.40 106.20,451.50 117.70,449.20 129.20,446.90 140.80,445.80 147.70,444.20 156.90,442.80 166.20,439.50 170.80,438.80 180.00,438.20 188.50,438.20 200.00,436.50 209.20,434.20 216.20,433.50 227.70,431.90 239.20,430.80 243.80,430.20 250.80,429.00 257.70,428.40 269.20,427.80 271.50,426.80 296.20,426.50 314.60,425.40 328.50,424.50 335.40,423.10 351.50,422.60 358.50,421.20 366.50,420.30 416.30,420.30 416.30,418.90 425.80,418.90 425.80,417.50 470.20,417.50 470.20,415.40 506.50,415.40 506.50,415.40" fill="none" stroke="#E7B800" stroke-width="1.7" stroke-linejoin="miter"/>
<polyline points="67.00,457.80 75.00,457.80 75.00,456.20 83.00,456.20 83.00,453.40 91.20,453.40 91.20,452.00 106.20,452.00 106.20,450.40 121.20,450.40 121.20,447.60 131.50,447.60 131.50,445.30 133.80,445.30 133.80,442.80 145.40,442.80 145.40,440.50 148.80,440.50 148.80,438.80 151.20,438.80 151.20,433.00 153.50,433.00 153.50,432.00 161.50,432.00 161.50,430.30 167.30,430.30 167.30,428.90 175.20,428.90 175.20,425.60 193.00,425.60 193.00,422.70 196.50,422.70 196.50,421.00 197.70,421.00 197.70,418.00 201.20,418.00 201.20,415.00 240.40,415.00 240.40,413.50 254.20,413.50 254.20,411.20 262.60,411.20 262.60,408.80 270.30,408.80 270.30,406.50 288.10,406.50 288.10,404.20 300.80,404.20 300.80,401.80 305.80,401.80 305.80,399.50 333.10,399.50 333.10,397.00 349.70,397.00 349.70,393.80 389.00,393.80 389.00,391.20 460.20,391.20 460.20,391.20" fill="none" stroke="#2E9FDF" stroke-width="1.7" stroke-linejoin="miter"/>
<path d="M243.6,413.5V464.5" stroke="#111" stroke-width="1.1" stroke-dasharray="2.5,2.4"/>
<path d="M243.6,413.5L255.4,407.2" stroke="#2E9FDF" stroke-width="0.8"/>
<path d="M243.6,430.3L254.2,425" stroke="#E7B800" stroke-width="0.8"/>
<text x="257.2" y="405.5" font-size="8.5" text-anchor="middle" fill="#2E9FDF" font-weight="normal" font-style="normal" textLength="23" lengthAdjust="spacingAndGlyphs">32.5%</text>
<text x="263.3" y="423.9" font-size="8.5" text-anchor="middle" fill="#E7B800" font-weight="normal" font-style="normal" textLength="23" lengthAdjust="spacingAndGlyphs">19.7%</text>
<rect x="0.5" y="0.5" width="519" height="527" fill="none" stroke="#3a3a3a" stroke-width="1"/>
</svg></body></html>
